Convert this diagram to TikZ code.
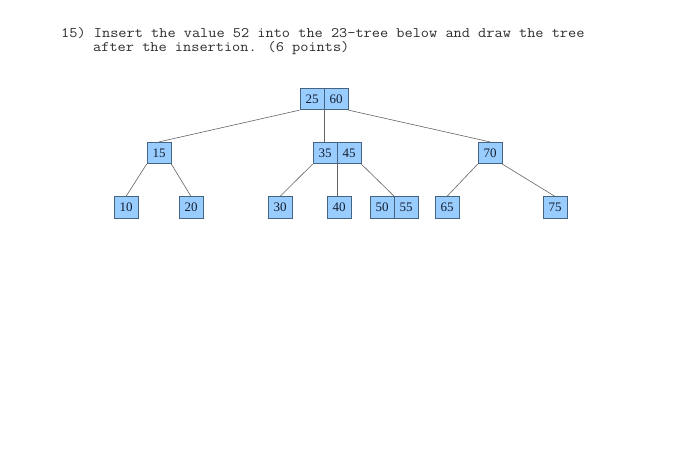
\documentclass[tikz,border=0pt]{standalone}
\usepackage{fontspec}
\usepackage{graphicx}
\setmainfont{Liberation Serif}
\definecolor{cellfill}{RGB}{153,204,255}
\definecolor{celldraw}{RGB}{70,100,130}
\definecolor{celltext}{RGB}{20,30,45}
\definecolor{edgecol}{RGB}{100,100,100}
\definecolor{titlecol}{RGB}{45,45,45}
\newcommand{\wideline}[1]{\scalebox{1.095}[1]{#1}}
\begin{document}
\begin{tikzpicture}[x=1pt,y=-1pt,
  cell/.style={draw=celldraw, fill=cellfill, line width=0.7pt, minimum width=24pt, minimum height=21.5pt, inner sep=0pt, text=celltext, font=\fontsize{13}{15}\selectfont},
  edge/.style={draw=edgecol, line width=0.6pt},
  title/.style={anchor=base west, inner sep=0pt, text=titlecol, font=\ttfamily\fontsize{14.5}{16}\selectfont}]
\useasboundingbox[fill=white] (0,0) rectangle (700,467);
% title
\node[title] (t1) at (61,37) {\wideline{15) Insert the value 52 into the 23-tree below and draw the tree}};
\node[title] (t2) at (93,51.5) {\wideline{after the insertion. (6 points)}};
% root
\node[cell] (r1) at (312,99) {25};
\node[cell] (r2) at (336,99) {60};
% level 2
\node[cell] (c15) at (159,153) {15};
\node[cell] (a1) at (325,153) {35};
\node[cell] (a2) at (349,153) {45};
\node[cell] (c70) at (490,153) {70};
% leaves
\node[cell] (l10) at (126,207.5) {10};
\node[cell] (l20) at (191,207.5) {20};
\node[cell] (l30) at (280,207.5) {30};
\node[cell] (l40) at (339,207.5) {40};
\node[cell] (b1) at (382,207.5) {50};
\node[cell] (b2) at (406,207.5) {55};
\node[cell] (l65) at (447,207.5) {65};
\node[cell] (l75) at (555,207.5) {75};
% edges
\draw[edge] (r1.south west) -- (c15.north);
\draw[edge] (r1.south east) -- (r1.south east |- a1.north);
\draw[edge] (r2.south east) -- (c70.north);
\draw[edge] (c15.south west) -- (l10.north);
\draw[edge] (c15.south east) -- (l20.north);
\draw[edge] (a1.south west) -- (l30.north);
\draw[edge] (a1.south east) -- (a1.south east |- l40.north);
\draw[edge] (a2.south east) -- (b1.north east);
\draw[edge] (c70.south west) -- (l65.north);
\draw[edge] (c70.south east) -- (l75.north);
\end{tikzpicture}
\end{document}
